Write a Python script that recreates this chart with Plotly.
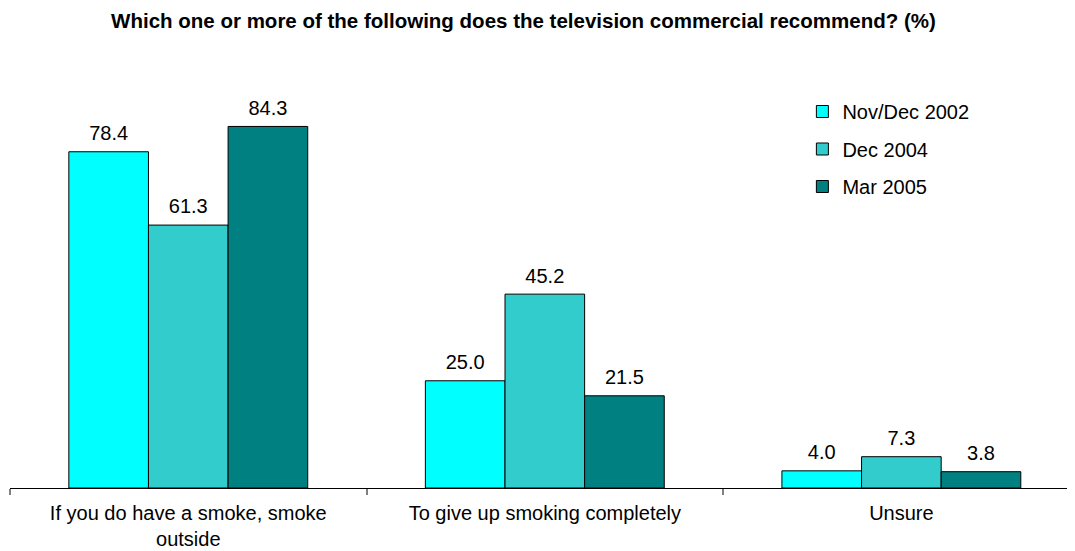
import plotly.graph_objects as go

categories = ["If you do have a smoke, smoke<br>outside", "To give up smoking completely", "Unsure"]
series_names = ["Nov/Dec 2002", "Dec 2004", "Mar 2005"]
nov_dec_2002 = [78.4, 25.0, 4.0]
dec_2004 = [61.3, 45.2, 7.3]
mar_2005 = [84.3, 21.5, 3.8]
colors = ["#00FFFF", "#33CCCC", "#008080"]

FONT = "Liberation Sans, Arial, sans-serif"

# The page body has an 8px default margin; the figure is sized to fit the window.
fig = go.Figure()
for i, (name, vals) in enumerate(zip(series_names, [nov_dec_2002, dec_2004, mar_2005])):
    fig.add_trace(go.Bar(
        x=categories, y=vals, name=name, legendgroup=name, offsetgroup=str(i),
        marker=dict(color=colors[i], line=dict(color="black", width=1)),
        hoverinfo="x+y",
    ))
for i, (name, vals) in enumerate(zip(series_names, [nov_dec_2002, dec_2004, mar_2005])):
    fig.add_trace(go.Scatter(
        x=categories, y=vals, name=name, legendgroup=name, offsetgroup=str(i),
        mode="markers+text", showlegend=False, hoverinfo="skip",
        marker=dict(size=9, color="rgba(0,0,0,0)"),
        text=[f"{v:.1f}" for v in vals], textposition="top center",
        textfont=dict(size=20, color="black", family=FONT),
        cliponaxis=False,
    ))

fig.update_layout(
    width=1067, height=543,
    barmode="group", bargap=0.33, bargroupgap=0,
    scattermode="group", scattergap=0.33,
    plot_bgcolor="white", paper_bgcolor="white",
    margin=dict(l=2, r=0, t=94.4, b=63, autoexpand=False),
    font=dict(family=FONT, size=20, color="black"),
    title=dict(text="<b>Which one or more of the following does the television commercial recommend? (%)</b>",
               x=0.4831, xanchor="center", xref="container",
               y=0.976, yanchor="middle", yref="container",
               font=dict(size=20.5, color="black", family=FONT)),
    legend=dict(x=0.7445, y=0.8453, xanchor="left", yanchor="top",
                xref="container", yref="container",
                bgcolor="rgba(0,0,0,0)", tracegroupgap=8.5,
                font=dict(size=20, color="black", family=FONT)),
    showlegend=True,
)
fig.update_xaxes(showline=True, linecolor="black", linewidth=1, automargin=False,
                 tickson="boundaries", ticks="outside", ticklen=6, tickwidth=1.5, tickcolor="#808080",
                 ticklabelstandoff=7,
                 range=[-0.5, 2.487], tickfont=dict(size=20, color="black", family=FONT))
fig.update_yaxes(visible=False, range=[0, 90])

fig.write_html("out.html")
